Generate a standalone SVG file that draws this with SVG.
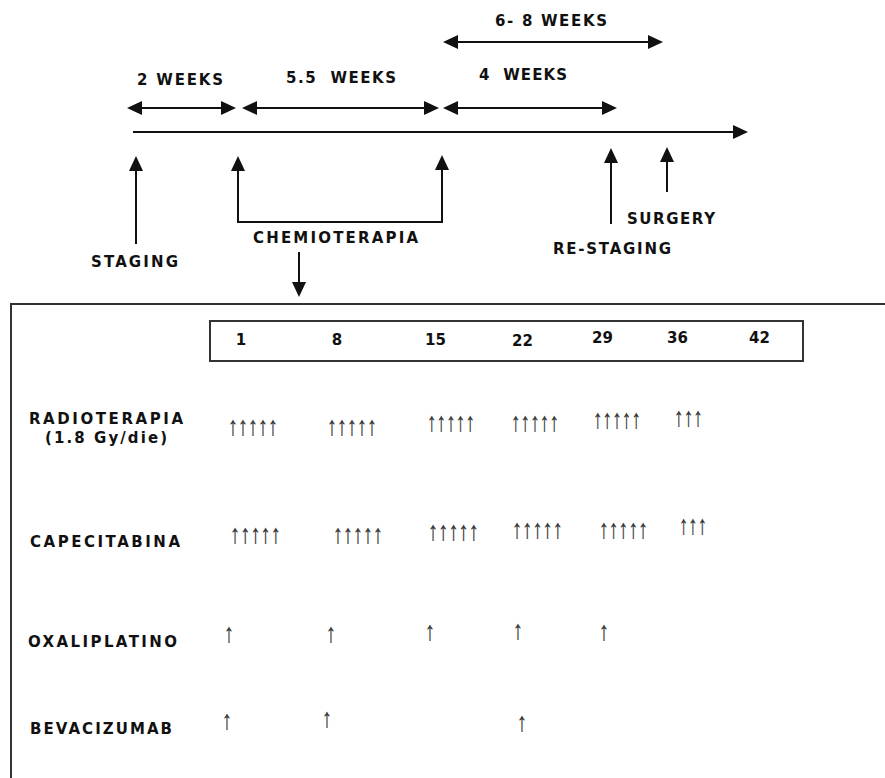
<svg xmlns="http://www.w3.org/2000/svg" width="885" height="778" viewBox="0 0 885 778">
<style>
.lbl{font-family:"DejaVu Sans","Verdana",sans-serif;font-weight:bold;font-size:15px;fill:#111}
.num{font-family:"DejaVu Sans","Verdana",sans-serif;font-weight:bold;font-size:15px;fill:#111}
.dose{font-family:"Liberation Sans",Arial,sans-serif;font-size:27px;fill:#333;stroke:#333;stroke-width:0.3;opacity:0.99}
.ln{stroke:#111;stroke-width:2;fill:none}
.box{stroke:#333;stroke-width:2;fill:none}
</style>
<defs>
<marker id="ah" markerUnits="userSpaceOnUse" markerWidth="15" markerHeight="14" refX="12" refY="7" orient="auto-start-reverse" viewBox="0 0 15 14">
<path d="M0,0 L15,7 L0,14 z" fill="#111"/>
</marker>
</defs>
<rect width="885" height="778" fill="#fff"/>

<g id="connectors">
<line class="ln" x1="130" y1="108" x2="233" y2="108" marker-start="url(#ah)" marker-end="url(#ah)"/>
<line class="ln" x1="245" y1="108" x2="436" y2="108" marker-start="url(#ah)" marker-end="url(#ah)"/>
<line class="ln" x1="446" y1="108" x2="614" y2="108" marker-start="url(#ah)" marker-end="url(#ah)"/>
<line class="ln" x1="446" y1="42" x2="660" y2="42" marker-start="url(#ah)" marker-end="url(#ah)"/>
<line class="ln" x1="133" y1="132" x2="745" y2="132" marker-end="url(#ah)"/>
<line class="ln" x1="136" y1="244" x2="136" y2="159" marker-end="url(#ah)"/>
<path class="ln" d="M238,159 V222 H442 V158" marker-start="url(#ah)" marker-end="url(#ah)"/>
<line class="ln" x1="299" y1="252" x2="299" y2="294" marker-end="url(#ah)"/>
<line class="ln" x1="611" y1="224" x2="611" y2="151" marker-end="url(#ah)"/>
<line class="ln" x1="667" y1="192" x2="667" y2="150" marker-end="url(#ah)"/>
</g>

<g id="weeks-6-8"><text class="lbl" x="495" y="26" textLength="112" lengthAdjust="spacing">6- 8 WEEKS</text></g>
<g id="weeks-2"><text class="lbl" x="137" y="85" textLength="86" lengthAdjust="spacing">2 WEEKS</text></g>
<g id="weeks-5-5"><text class="lbl" x="286" y="83" textLength="110" lengthAdjust="spacing" style="white-space:pre">5.5  WEEKS</text></g>
<g id="weeks-4"><text class="lbl" x="479" y="80" textLength="88" lengthAdjust="spacing" style="white-space:pre">4  WEEKS</text></g>
<g id="staging"><text class="lbl" x="91" y="267" textLength="87" lengthAdjust="spacing">STAGING</text></g>
<g id="chemioterapia"><text class="lbl" x="253" y="243" textLength="165" lengthAdjust="spacing">CHEMIOTERAPIA</text></g>
<g id="surgery"><text class="lbl" x="627" y="224" textLength="88" lengthAdjust="spacing">SURGERY</text></g>
<g id="re-staging"><text class="lbl" x="553" y="254" textLength="118" lengthAdjust="spacing">RE-STAGING</text></g>

<g id="schedule-frame">
<path class="box" d="M11,778 V304 H885"/>
</g>

<g id="days">
<rect class="box" x="210" y="321" width="593" height="40"/>
<text class="num" x="241" y="345" text-anchor="middle">1</text>
<text class="num" x="337" y="345" text-anchor="middle">8</text>
<text class="num" x="425" y="345">15</text>
<text class="num" x="512" y="346">22</text>
<text class="num" x="592" y="343">29</text>
<text class="num" x="667" y="343">36</text>
<text class="num" x="749" y="343">42</text>
</g>

<g id="radioterapia">
<text class="lbl" x="29" y="424" textLength="154" lengthAdjust="spacing">RADIOTERAPIA</text>
<text class="lbl" x="45" y="443" textLength="122" lengthAdjust="spacing">(1.8 Gy/die)</text>
<text class="dose" x="228" y="435" textLength="50" lengthAdjust="spacingAndGlyphs">↑↑↑↑↑</text>
<text class="dose" x="327" y="435" textLength="50" lengthAdjust="spacingAndGlyphs">↑↑↑↑↑</text>
<text class="dose" x="427" y="431" textLength="48" lengthAdjust="spacingAndGlyphs">↑↑↑↑↑</text>
<text class="dose" x="511" y="431" textLength="48" lengthAdjust="spacingAndGlyphs">↑↑↑↑↑</text>
<text class="dose" x="593" y="428" textLength="48" lengthAdjust="spacingAndGlyphs">↑↑↑↑↑</text>
<text class="dose" x="674" y="426" textLength="29" lengthAdjust="spacingAndGlyphs">↑↑↑</text>
</g>

<g id="capecitabina">
<text class="lbl" x="30" y="547" textLength="150" lengthAdjust="spacing">CAPECITABINA</text>
<text class="dose" x="230" y="543" textLength="51" lengthAdjust="spacingAndGlyphs">↑↑↑↑↑</text>
<text class="dose" x="333" y="543" textLength="50" lengthAdjust="spacingAndGlyphs">↑↑↑↑↑</text>
<text class="dose" x="428" y="540" textLength="51" lengthAdjust="spacingAndGlyphs">↑↑↑↑↑</text>
<text class="dose" x="512" y="538" textLength="51" lengthAdjust="spacingAndGlyphs">↑↑↑↑↑</text>
<text class="dose" x="599" y="538" textLength="49" lengthAdjust="spacingAndGlyphs">↑↑↑↑↑</text>
<text class="dose" x="679" y="534" textLength="28" lengthAdjust="spacingAndGlyphs">↑↑↑</text>
</g>

<g id="oxaliplatino">
<text class="lbl" x="28" y="647" textLength="149" lengthAdjust="spacing">OXALIPLATINO</text>
<text class="dose" x="224" y="642" textLength="10" lengthAdjust="spacingAndGlyphs">↑</text>
<text class="dose" x="326" y="642" textLength="10" lengthAdjust="spacingAndGlyphs">↑</text>
<text class="dose" x="425" y="640" textLength="10" lengthAdjust="spacingAndGlyphs">↑</text>
<text class="dose" x="513" y="639" textLength="10" lengthAdjust="spacingAndGlyphs">↑</text>
<text class="dose" x="599" y="640" textLength="10" lengthAdjust="spacingAndGlyphs">↑</text>
</g>

<g id="bevacizumab">
<text class="lbl" x="30" y="734" textLength="142" lengthAdjust="spacing">BEVACIZUMAB</text>
<text class="dose" x="222" y="729" textLength="10" lengthAdjust="spacingAndGlyphs">↑</text>
<text class="dose" x="322" y="727" textLength="10" lengthAdjust="spacingAndGlyphs">↑</text>
<text class="dose" x="517" y="731" textLength="10" lengthAdjust="spacingAndGlyphs">↑</text>
</g>
</svg>
